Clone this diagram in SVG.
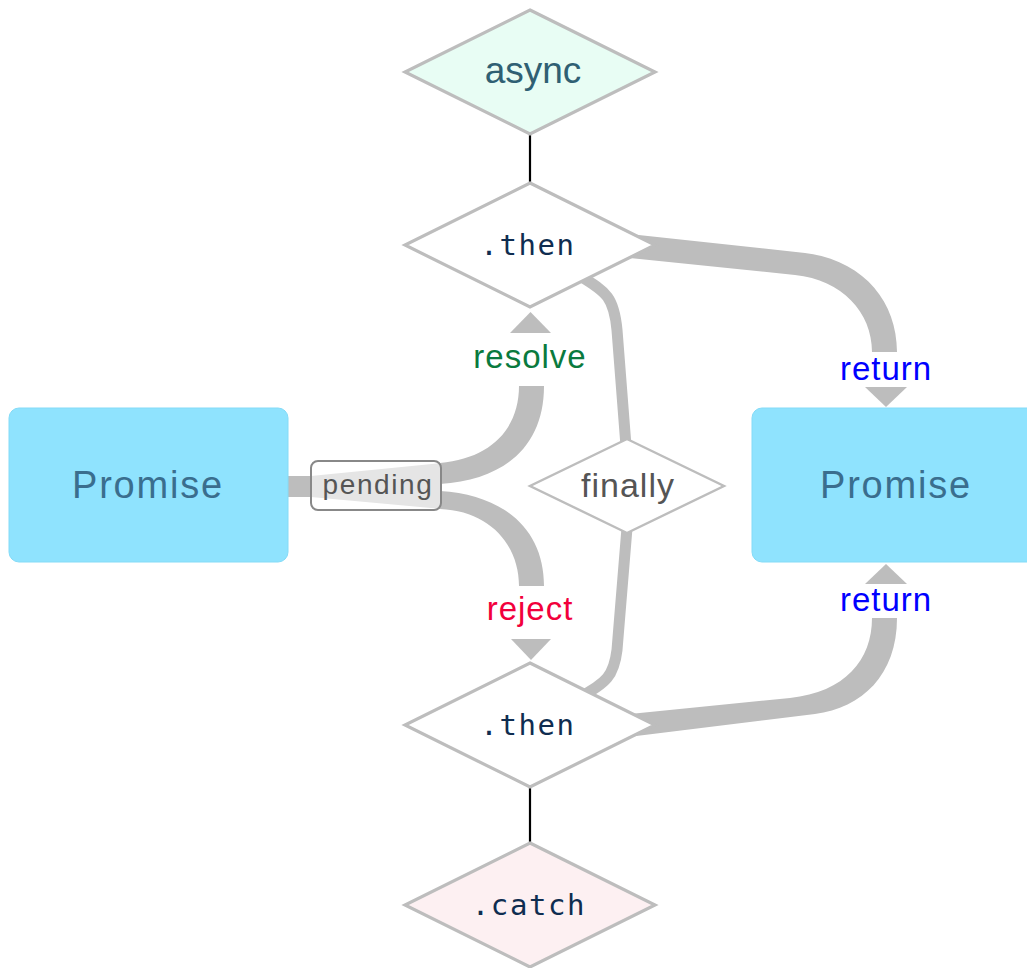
<svg xmlns="http://www.w3.org/2000/svg" width="1027" height="968" viewBox="0 0 1027 968">
<style>
.band{fill:#bdbdbd;stroke:none}
.thin{fill:none;stroke:#bdbdbd;stroke-width:11}
.link{stroke:#000;stroke-width:2.2}
.dia{stroke:#bdbdbd;stroke-width:3.2}
.sans{font-family:"Liberation Sans",Arial,sans-serif;text-anchor:middle}
.mono{font-family:"DejaVu Sans Mono","Liberation Mono",monospace;text-anchor:middle;font-size:29px;fill:#0f2d50;letter-spacing:1.6px}
.box{fill:#8fe3fe;stroke:#84dbf7;stroke-width:1}
.ptxt{font-size:38px;fill:#3a6e8e;letter-spacing:1.8px}
.lbl{font-size:33px;letter-spacing:1px}
</style>
<rect width="1027" height="968" fill="#fff"/>
<g id="connectors">
<line class="link" x1="530" y1="133" x2="530" y2="184"/>
<line class="link" x1="530" y1="786" x2="530" y2="844"/>
<polygon class="band" points="287,476 311,476 442,463 442,509 311,497 287,497"/>
<path class="band" d="M440,463 C492,458 519,428 519,386 L544,386 C544,446 505,480 440,484 Z"/>
<path class="band" d="M440,491 C505,495 544,530 544,586 L519,586 C519,545 490,511 440,509 Z"/>
<polygon class="band" points="510,333 551,333 530.5,312"/>
<polygon class="band" points="511,639 551,639 531,660"/>
<path class="band" d="M620,233 L805,253 C862,260 897,300 897,352 L872,352 C872,312 842,280 795,275 L620,257 Z"/>
<polygon class="band" points="865,387 907,387 886,407"/>
<path class="band" d="M620,715 L790,698 C845,692 872,660 872,618 L897,618 C897,675 862,708 815,714 L620,738 Z"/>
<polygon class="band" points="865,584 907,584 886,564"/>
<path class="thin" d="M626,446 L617,330 C614,298 607,292 580,276"/>
<path class="thin" d="M627,528 L617,650 C614,675 607,683 578,698"/>
<text class="sans lbl" x="530" y="368" fill="#0a7a3e">resolve</text>
<text class="sans lbl" x="530" y="620" fill="#f2003c">reject</text>
<text class="sans lbl" x="886" y="380" fill="#0000ff">return</text>
<text class="sans lbl" x="886" y="611" fill="#0000ff">return</text>
</g>
<g id="pending">
<rect x="311" y="461" width="130" height="49" rx="7" fill="#fff" fill-opacity="0.6" stroke="#888" stroke-width="2"/>
<text class="sans" x="378" y="494" font-size="28px" fill="#555" letter-spacing="1.6px">pending</text>
</g>
<g id="promise-left">
<rect class="box" x="9" y="408" width="279" height="154" rx="10"/>
<text class="sans ptxt" x="148" y="498">Promise</text>
</g>
<g id="promise-right">
<rect class="box" x="752" y="408" width="286" height="154" rx="10"/>
<text class="sans ptxt" x="896" y="498">Promise</text>
</g>
<g id="async">
<polygon class="dia" points="530,10 655,72 530,134 405,72" fill="#e8fdf4"/>
<text class="sans" x="533" y="83" font-size="37px" fill="#2f6073">async</text>
</g>
<g id="then-top">
<polygon class="dia" points="530,183 655,245 530,307 405,245" fill="#fff"/>
<text class="mono" x="528" y="255">.then</text>
</g>
<g id="finally">
<polygon points="627,439 724,486 627,533 530,486" fill="#fff" stroke="#bdbdbd" stroke-width="2.4"/>
<text class="sans" x="628" y="497" font-size="34px" fill="#555" letter-spacing="1px">finally</text>
</g>
<g id="then-bottom">
<polygon class="dia" points="530,663 655,725 530,787 405,725" fill="#fff"/>
<text class="mono" x="528" y="735">.then</text>
</g>
<g id="catch">
<polygon class="dia" points="530,843 655,905 530,967 405,905" fill="#fdf0f2"/>
<text class="mono" x="529" y="915">.catch</text>
</g>
</svg>
